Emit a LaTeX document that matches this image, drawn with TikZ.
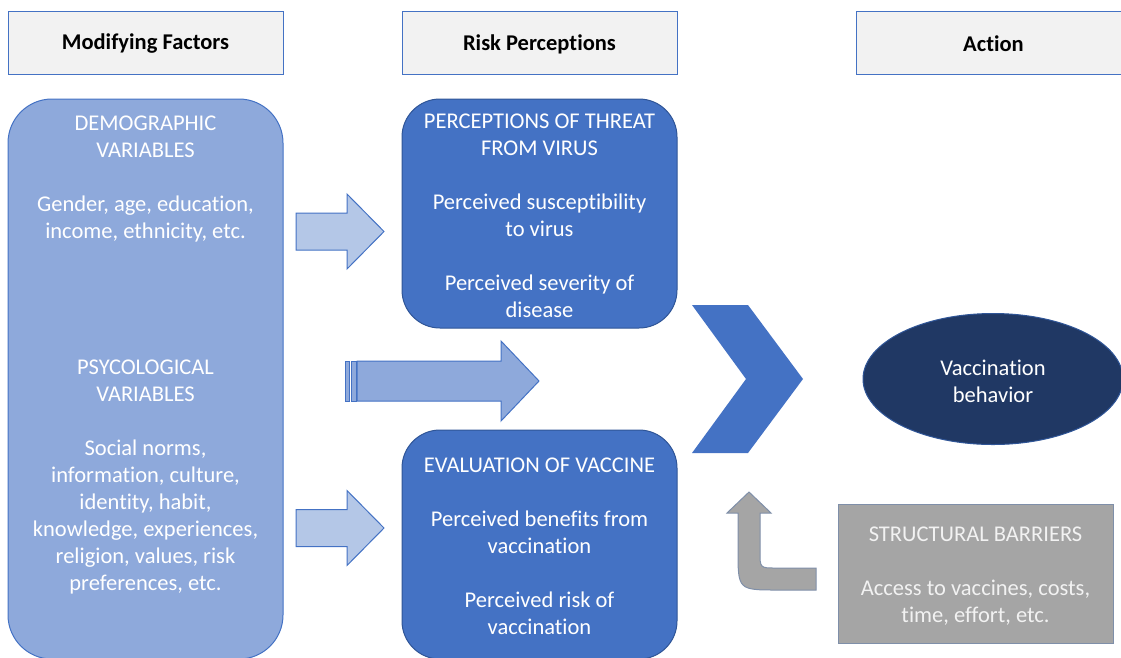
\documentclass[tikz,border=0pt]{standalone}
\usepackage{fontspec}
\setmainfont{Carlito}[Ligatures=NoCommon]
\usetikzlibrary{shapes.geometric}
\definecolor{hdrfill}{HTML}{F2F2F2}
\definecolor{edgeblue}{HTML}{4472C4}
\definecolor{darkedge}{HTML}{2F5597}
\definecolor{midblue}{HTML}{4472C4}
\definecolor{softblue}{HTML}{8EA9DB}
\definecolor{paleblue}{HTML}{B4C7E7}
\definecolor{navy}{HTML}{203864}
\definecolor{barriergray}{HTML}{A5A5A5}
\definecolor{grayedge}{HTML}{7F8FA9}
\tikzset{
    txt/.style={font=\fontsize{22.5}{27}\selectfont, align=center, inner sep=0pt},
    header/.style={draw=edgeblue, line width=1pt, fill=hdrfill, minimum width=275pt, minimum height=63pt, inner sep=0pt},
    riskbox/.style={draw=darkedge, line width=1pt, fill=midblue, rounded corners=38pt, minimum width=275pt, minimum height=229pt},
    blockarrow/.style={draw=edgeblue, line width=1pt, fill=paleblue},
}
\begin{document}
\begin{tikzpicture}[x=1pt,y=-1pt]
\useasboundingbox (0,0) rectangle (1121,657);
% headers
\node[header] (hdrmod) at (145.5,42.5) {};
\node[header] (hdrrisk) at (539.5,42.5) {};
\node[header] (hdraction) at (993.5,42.5) {};
\node[txt, font=\fontsize{22.5}{27}\selectfont\bfseries] (hdrmodtxt) at (145.5,44) {Modifying Factors};
\node[txt, font=\fontsize{22.5}{27}\selectfont\bfseries] (hdrrisktxt) at (539.5,44) {Risk Perceptions};
\node[txt, font=\fontsize{22.5}{27}\selectfont\bfseries] (hdractiontxt) at (993.5,44) {Action};
% modifying factors
\draw[draw=edgeblue, line width=1pt, fill=softblue, rounded corners=44pt] (8,99) rectangle (283,659);
\node[txt, text=white] (demotxt) at (145.5,179) {DEMOGRAPHIC\\VARIABLES\\[27pt]Gender, age, education,\\income, ethnicity, etc.};
\node[txt, text=white] (psychtxt) at (145.5,477) {PSYCOLOGICAL\\VARIABLES\\[27pt]Social norms,\\information, culture,\\identity, habit,\\knowledge, experiences,\\religion, values, risk\\preferences, etc.};
% risk perceptions
\node[riskbox] (threat) at (539.5,213.5) {};
\node[riskbox] (vaccine) at (539.5,544.5) {};
\node[txt, text=white] (threattxt) at (539.5,216) {PERCEPTIONS OF THREAT\\FROM VIRUS\\[27pt]Perceived susceptibility\\to virus\\[27pt]Perceived severity of\\disease};
\node[txt, text=white] (vaccinetxt) at (539.5,546.5) {EVALUATION OF VACCINE\\[27pt]Perceived benefits from\\vaccination\\[27pt]Perceived risk of\\vaccination};
% block arrows
\draw[blockarrow] (296,213)--(347,213)--(347,194)--(384,231.5)--(347,269)--(347,250)--(296,250)--cycle;
\draw[blockarrow, yshift=-296.5pt] (296,213)--(347,213)--(347,194)--(384,231.5)--(347,269)--(347,250)--(296,250)--cycle;
\draw[blockarrow, fill=softblue] (345,361) rectangle (349,401);
\draw[blockarrow, fill=softblue] (351,361) rectangle (356,401);
\draw[blockarrow, fill=softblue] (357,361)--(501,361)--(501,341)--(539,381)--(501,421)--(501,401)--(357,401)--cycle;
% chevron
\fill[midblue] (692,305)--(748,305)--(803,379)--(748,453)--(692,453)--(746,379)--cycle;
% action
\node[ellipse, draw=darkedge, line width=1pt, fill=navy, minimum width=260pt, minimum height=131pt, inner sep=0pt] (behav) at (993,379) {};
\node[txt, text=white] (behavtxt) at (993,381) {Vaccination\\behavior};
\node[draw=grayedge, line width=1pt, fill=barriergray, minimum width=275pt, minimum height=139pt, inner sep=0pt] (barrier) at (975.5,573.5) {};
\node[txt, text=hdrfill] (barriertxt) at (975.5,576) {STRUCTURAL BARRIERS\\[27pt]Access to vaccines, costs,\\time, effort, etc.};
% u-turn arrow
\draw[draw=grayedge, line width=1pt, fill=barriergray] (749,492)--(771,513)--(760,513)--(760,552) .. controls (760,568) .. (776,568)--(816,568)--(816,590)--(778,590) .. controls (738,590) .. (738,550)--(738,513)--(727,513)--cycle;
\end{tikzpicture}
\end{document}
